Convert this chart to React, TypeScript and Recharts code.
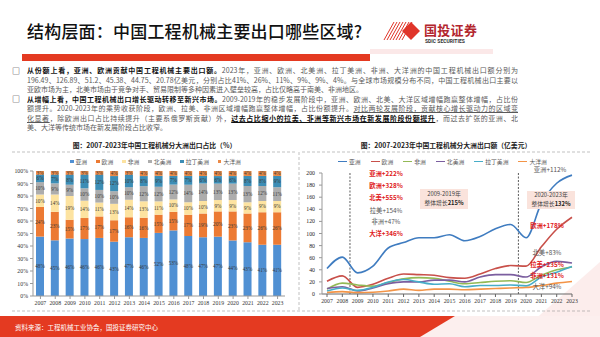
import React from 'react';
import { BarChart, Bar, XAxis, YAxis, LabelList, LineChart, Line, ReferenceLine } from 'recharts';

// 2007-2023
const years = ['2007', '2008', '2009', '2010', '2011', '2012', '2013', '2014', '2015', '2016', '2017', '2018', '2019', '2020', '2021', '2022', '2023'];
const yearNums = [2007, 2008, 2009, 2010, 2011, 2012, 2013, 2014, 2015, 2016, 2017, 2018, 2019, 2020, 2021, 2022, 2023];

// share of exports by region (%)
const shareAsia = [48, 45, 46, 46, 46, 43, 47, 46, 52, 53, 48, 47, 47, 44, 43, 41, 41];
const shareEurope = [24, 23, 15, 17, 17, 17, 16, 16, 15, 15, 17, 19, 20, 23, 23, 26, 26];
const shareAfrica = [10, 14, 19, 14, 11, 13, 14, 13, 11, 10, 10, 10, 9, 9, 9, 9, 9];
const shareNA = [10, 9, 9, 10, 10, 10, 10, 12, 12, 12, 14, 14, 13, 13, 13, 12, 11];
const shareLatin = [6, 7, 8, 11, 12, 12, 10, 8, 9, 7, 7, 6, 6, 6, 8, 8, 9];
const shareOceania = [3, 3, 3, 3, 3, 4, 3, 4, 4, 4, 4, 4, 4, 4, 4, 4, 4];

// export value by region (亿美元)
const amtAsia = [42, 61, 35, 46, 76, 85, 93, 93, 98, 88, 95, 108, 115, 93, 150, 183, 196.49];
const amtEurope = [21, 30, 11, 16, 26, 33, 32, 31, 27, 26, 33, 42, 47, 46, 78, 107, 126.89];
const amtAfrica = [8, 18, 15, 13, 19, 25, 27, 26, 21, 17, 19, 21, 22, 19, 31, 40, 44.75];
const amtNA = [9, 12, 5, 10, 17, 20, 20, 23, 23, 20, 28, 32, 32, 28, 45, 54, 51.2];
const amtLatin = [5, 10, 6, 11, 20, 24, 20, 16, 17, 12, 14, 14, 15, 13.5, 28, 36, 45.38];
const amtOceania = [2.6, 4, 2.2, 3, 5, 8, 6, 8, 8, 7, 8, 9, 10, 10.7, 14, 18, 20.78];

const shareTicks = [0, 0.1, 0.2, 0.3, 0.4, 0.5, 0.6, 0.7, 0.8, 0.9, 1];
const amtTicks = [0, 20, 40, 60, 80, 100, 120, 140, 160, 180, 200];

const barSeries = [
  { key: 'asia', name: '亚洲', color: '#5090D3' },
  { key: 'europe', name: '欧洲', color: '#EC7A33' },
  { key: 'africa', name: '非洲', color: '#FDE3A0' },
  { key: 'na', name: '北美洲', color: '#ADADAD' },
  { key: 'latin', name: '拉丁美洲', color: '#3C8DB5' },
  { key: 'oceania', name: '大洋洲', color: '#EB8A47' },
];

const lineSeries = [
  { key: 'asia', name: '亚洲', color: '#3F7CC0' },
  { key: 'europe', name: '欧洲', color: '#C8504A' },
  { key: 'africa', name: '非洲', color: '#93B955' },
  { key: 'na', name: '北美洲', color: '#7B5E9F' },
  { key: 'latin', name: '拉丁美洲', color: '#47ADC8' },
  { key: 'oceania', name: '大洋洲', color: '#F39447' },
];

const shareData = years.map((y, i) => ({
  year: y,
  asia: shareAsia[i],
  europe: shareEurope[i],
  africa: shareAfrica[i],
  na: shareNA[i],
  latin: shareLatin[i],
  oceania: shareOceania[i],
}));

const amtData = yearNums.map((y, i) => ({
  year: y,
  asia: amtAsia[i],
  europe: amtEurope[i],
  africa: amtAfrica[i],
  na: amtNA[i],
  latin: amtLatin[i],
  oceania: amtOceania[i],
}));

const CJK = '"Noto Sans CJK SC", "Noto Sans", sans-serif';
const SERIF = '"Liberation Serif", "DejaVu Serif", serif';
const RED = '#E43A21';
const GRAY_TXT = '#595959';

const lineStyle: React.CSSProperties = {
  position: 'absolute',
  left: 27,
  width: 491,
  height: 10,
  fontSize: 7,
  lineHeight: '10px',
  color: GRAY_TXT,
  textAlign: 'justify',
  textAlignLast: 'justify',
  overflow: 'hidden',
  whiteSpace: 'normal',
};

const B = ({ children }: { children: React.ReactNode }) => (
  <span style={{ color: '#111', fontWeight: 700 }}>{children}</span>
);

const Note = ({ x, y, text, red, w = 40 }: { x: number; y: number; text: string; red?: boolean; w?: number }) => (
  <div style={{
    position: 'absolute', left: x, top: y, width: w, textAlign: 'center', fontSize: 6.3, lineHeight: '8px',
    color: red ? '#E0201C' : '#555', fontWeight: red ? 700 : 400, whiteSpace: 'nowrap',
  }}>{text}</div>
);

// y tick for the value chart
const AmtTick = (props: any) => {
  const { x, y, payload } = props;
  return (
    <text x={x - 2} y={y} dy={2} textAnchor="end" fontSize={5.8} fill="#222" fontFamily={SERIF}>
      {payload.value}
    </text>
  );
};

const App = () => {
  return (
    <div style={{ width: 600, height: 337, position: 'relative', background: '#fff', overflow: 'hidden', fontFamily: CJK }}>
      <style>{'body{margin:0}'}</style>

      {/* background decoration */}
      <svg width={600} height={337} style={{ position: 'absolute', left: 0, top: 0 }}>
        <polygon points="515,337 600,262 600,337" fill="#FCEDEC" />
        <rect x={22} y={54} width={348} height={7} fill={RED} />
        <rect x={370} y={49} width={123} height={5} fill="#FBE8E8" />
        <polygon points="455,316 600,316 600,337 420,337" fill="#FCEFEE" />
        <polygon points="0,316 455,316 420,337 0,337" fill={RED} />
        {/* logo */}
        {[0, 1, 2, 3, 4, 5, 6].map((i) => (
          <line key={i} x1={384 + i * 3} y1={40} x2={394 + i * 3} y2={22} stroke="#E0352A" strokeWidth={1} />
        ))}
        <polygon points="411,22 420,31 411,40 402,31" fill="#E0352A" />
        {/* chart frames */}
        <line x1={12} y1={152} x2={297} y2={152} stroke="#999" strokeDasharray="3 2" strokeWidth={0.6} />
        <line x1={302} y1={152} x2={590} y2={152} stroke="#999" strokeDasharray="3 2" strokeWidth={0.6} />
        <line x1={12} y1={311} x2={590} y2={311} stroke="#999" strokeDasharray="3 2" strokeWidth={0.6} />
        <line x1={299} y1={152} x2={299} y2={311} stroke="#999" strokeDasharray="3 2" strokeWidth={0.6} />
      </svg>

      <div style={{ position: 'absolute', left: 27, top: 18, fontSize: 17, fontWeight: 500, color: '#111', letterSpacing: 0.2, whiteSpace: 'nowrap' }}>
        结构层面：中国工程机械主要出口哪些区域?
      </div>
      <div style={{ position: 'absolute', left: 424, top: 23, fontSize: 13, lineHeight: '14px', fontWeight: 700, color: '#B3262E', letterSpacing: 0.3, whiteSpace: 'nowrap' }}>国投证券</div>
      <div style={{ position: 'absolute', left: 425, top: 38, fontSize: 5, lineHeight: '6px', fontWeight: 700, color: '#333', fontFamily: '"Roboto", sans-serif', whiteSpace: 'nowrap' }}>SDIC SECURITIES</div>

      {/* body text */}
      <div style={{ position: 'absolute', left: 12, top: 65, fontSize: 8, color: '#111' }}>□</div>
      <div style={{ ...lineStyle, top: 65 }}><B>从份额上看，亚洲、欧洲贡献中国工程机械主要出口额。</B>2023年，亚洲、欧洲、北美洲、拉丁美洲、非洲、大洋洲的中国工程机械出口额分别为</div>
      <div style={{ ...lineStyle, top: 74.5 }}>196.49、126.89、51.2、45.38、44.75、20.78亿美元，分别占比41%、26%、11%、9%、9%、4%。与全球市场规模分布不同，中国工程机械出口主要以</div>
      <div style={{ ...lineStyle, top: 84, textAlignLast: 'left' }}>亚欧市场为主，北美市场由于竞争对手、贸易限制等多种因素进入壁垒较高，占比仅略高于南美、非洲地区。</div>
      <div style={{ position: 'absolute', left: 12, top: 93, fontSize: 8, color: '#111' }}>□</div>
      <div style={{ ...lineStyle, top: 93.5 }}><B>从增幅上看，中国工程机械出口增长驱动转移至新兴市场。</B>2009-2019年的稳步发展阶段中，亚洲、欧洲、北美、大洋区域增幅跑赢整体增幅，占比份</div>
      <div style={{ ...lineStyle, top: 103 }}>额提升。2020-2023年的乘势收获阶段，欧洲、拉美、非洲区域增幅跑赢整体增幅，占比份额提升。<span style={{ textDecoration: 'underline' }}>对比两轮发展阶段，贡献核心增长驱动力的区域变</span></div>
      <div style={{ ...lineStyle, top: 112.5 }}><span style={{ textDecoration: 'underline' }}>化显著</span>，除欧洲出口占比持续提升（主要系俄罗斯贡献）外，<span style={{ textDecoration: 'underline', color: '#111', fontWeight: 700 }}>过去占比缩小的拉美、非洲等新兴市场在新发展阶段份额提升</span>，而过去扩张的亚洲、北</div>
      <div style={{ ...lineStyle, top: 122, textAlignLast: 'left' }}>美、大洋等传统市场在新发展阶段占比收窄。</div>

      {/* chart titles */}
      <div style={{ position: 'absolute', left: 12, width: 285, top: 140, textAlign: 'center', fontSize: 6.8, fontWeight: 700, color: '#222' }}>
        图：2007-2023年中国工程机械分大洲出口占比（%）
      </div>
      <div style={{ position: 'absolute', left: 302, width: 288, top: 140, textAlign: 'center', fontSize: 6.8, fontWeight: 700, color: '#222' }}>
        图：2007-2023年中国工程机械分大洲出口额（亿美元）
      </div>

      {/* legends */}
      <div style={{ position: 'absolute', left: 70, top: 157, display: 'flex', gap: 9, fontSize: 5.8, color: '#555' }}>
        {barSeries.map((s) => (
          <div key={s.key} style={{ display: 'flex', alignItems: 'center', gap: 2, whiteSpace: 'nowrap' }}>
            <div style={{ width: 3.5, height: 3.5, background: s.color }} />
            <span>{s.name}</span>
          </div>
        ))}
      </div>
      <div style={{ position: 'absolute', left: 338, top: 157, display: 'flex', gap: 10, fontSize: 5.8, color: '#555' }}>
        {lineSeries.map((s) => (
          <div key={s.key} style={{ display: 'flex', alignItems: 'center', gap: 2, whiteSpace: 'nowrap' }}>
            <div style={{ width: 9, height: 1.5, background: s.color }} />
            <span>{s.name}</span>
          </div>
        ))}
      </div>

      {/* left: stacked share */}
      <div style={{ position: 'absolute', left: 0, top: 155 }}>
        <BarChart width={290} height={160} data={shareData} stackOffset="expand" margin={{ top: 16, right: 5, left: 0, bottom: 0 }}>
          <XAxis dataKey="year" height={19} interval={0} tick={{ fontSize: 5.8, fill: '#333', fontFamily: SERIF }} tickSize={3} stroke="#999" />
          <YAxis width={33} ticks={shareTicks} domain={[0, 1]} tickFormatter={(v: number) => `${Math.round(v * 100)}%`}
            tick={{ fontSize: 5.8, fill: '#333', fontFamily: SERIF }} tickSize={3} stroke="#999" />
          {barSeries.map((s) => (
            <Bar key={s.key} dataKey={s.key} name={s.name} stackId="a" fill={s.color} barSize={8} isAnimationActive={false}>
              <LabelList dataKey={s.key} position="center" formatter={(v: number) => `${v}%`}
                style={{ fontSize: 5.2, fill: '#3A3A3A', fontFamily: SERIF }} />
            </Bar>
          ))}
        </BarChart>
      </div>

      {/* right: export values */}
      <div style={{ position: 'absolute', left: 300, top: 155 }}>
        <LineChart width={290} height={158} data={amtData} margin={{ top: 18, right: 18, left: 0, bottom: 0 }}>
          <XAxis dataKey="year" type="number" domain={[2007, 2023]} ticks={yearNums} interval={0} padding={{ left: 5, right: 0 }}
            height={19} tick={{ fontSize: 5.8, fill: '#333', fontFamily: SERIF }} tickSize={3} stroke="#666" />
          <YAxis type="number" width={22} domain={[0, 200]} ticks={amtTicks} interval={0}
            tick={<AmtTick />} tickSize={3} stroke="#999" />
          <ReferenceLine x={2008.5} stroke="#333" strokeDasharray="2 1.5" strokeWidth={0.8} />
          <ReferenceLine x={2019.5} stroke="#333" strokeDasharray="2 1.5" strokeWidth={0.8} />
          {lineSeries.map((s) => (
            <Line key={s.key} type="monotone" dataKey={s.key} name={s.name} stroke={s.color} strokeWidth={1.6} dot={false} isAnimationActive={false} />
          ))}
        </LineChart>
      </div>

      {/* annotations on line chart */}
      <Note x={366} y={170} text="亚洲+222%" red />
      <Note x={366} y={182} text="欧洲+328%" red />
      <Note x={366} y={194} text="北美+555%" red />
      <Note x={366} y={207} text="拉美+154%" />
      <Note x={366} y={218} text="非洲+47%" />
      <Note x={366} y={230} text="大洋+346%" red />
      <div style={{ position: 'absolute', left: 420, top: 189, width: 48, height: 20, background: '#FAE3DC', fontSize: 5.8, lineHeight: '9px', color: '#444', textAlign: 'center', whiteSpace: 'nowrap' }}>
        <div>2009-2019年</div>
        <div>整体增长<b style={{ color: '#222' }}>215%</b></div>
      </div>
      <Note x={530} y={166} text="亚洲+112%" />
      <div style={{ position: 'absolute', left: 527, top: 191, width: 48, height: 18, background: '#FAE3DC', fontSize: 5.8, lineHeight: '8.5px', color: '#444', textAlign: 'center', whiteSpace: 'nowrap' }}>
        <div>2020-2023年</div>
        <div>整体增长<b style={{ color: '#222' }}>132%</b></div>
      </div>
      <Note x={527} y={222} text="欧洲+178%" red />
      <Note x={527} y={249} text="北美+83%" />
      <Note x={527} y={261} text="拉美+235%" red />
      <Note x={527} y={272} text="非洲+131%" red />
      <Note x={527} y={283} text="大洋+94%" />

      <div style={{ position: 'absolute', left: 15, top: 322, fontSize: 6.5, color: '#fff', whiteSpace: 'nowrap' }}>
        资料来源：工程机械工业协会，国投证券研究中心
      </div>
    </div>
  );
};

export default App;
